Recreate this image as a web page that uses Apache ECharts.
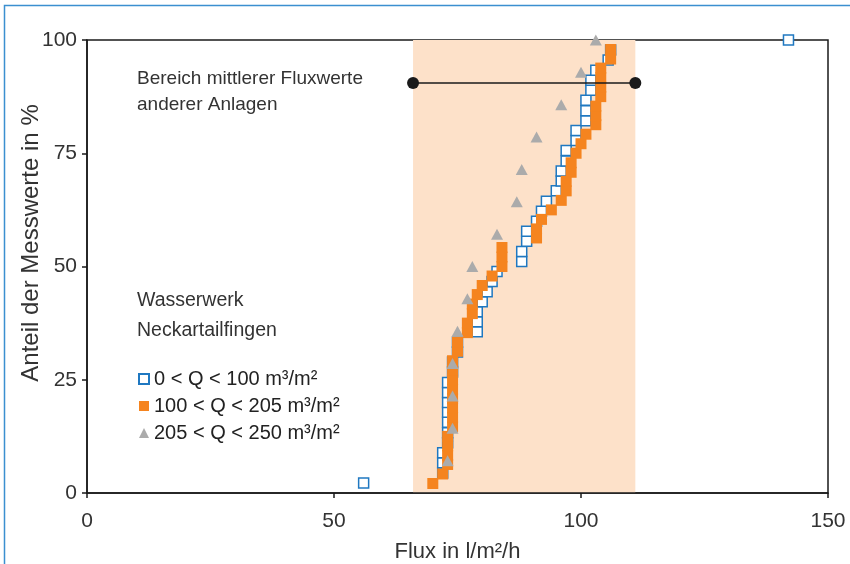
<!DOCTYPE html>
<html>
<head>
<meta charset="utf-8">
<script src="https://cdn.jsdelivr.net/npm/echarts@6/dist/echarts.min.js"></script>
<style>
  html, body { margin: 0; padding: 0; background: #fff; }
  #chart { width: 850px; height: 564px; }
</style>
</head>
<body>
<div id="chart"></div>
<script>
// Flux (l/m²/h) je Messwert, nach Gruppe
var lowFlux = [56, 72, 72, 72, 73, 73, 73, 73, 73, 73, 73, 74, 74, 75, 75,
  79, 79, 79, 80, 81, 82, 83, 88, 88, 89, 89, 91, 92, 93, 95,
  96, 96, 97, 97, 99, 99, 101, 101, 101, 102, 102, 103, 105.5, 106, 142];
var lowShare = [2.2, 4.4, 6.7, 8.9, 11.1, 13.3, 15.6, 17.8, 20.0, 22.2, 24.4, 26.7, 28.9, 31.1, 33.3,
  35.6, 37.8, 40.0, 42.2, 44.4, 46.7, 48.9, 51.1, 53.3, 55.6, 57.8, 60.0, 62.2, 64.4, 66.7,
  68.9, 71.1, 73.3, 75.6, 77.8, 80.0, 82.2, 84.4, 86.7, 88.9, 91.1, 93.3, 95.6, 97.8, 100];

var midFlux = [70, 72, 73, 73, 73, 73, 74, 74, 74, 74, 74, 74, 74, 74, 75, 75,
  77, 77, 78, 78, 79, 80, 82, 84, 84, 84, 91, 91, 92, 94, 96, 97,
  97, 98, 98, 99, 100, 101, 103, 103, 103, 104, 104, 104, 104, 106, 106];
var midShare = [2.1, 4.2, 6.3, 8.3, 10.4, 12.5, 14.6, 16.7, 18.8, 20.8, 22.9, 25.0, 27.1, 29.2, 31.3, 33.3,
  35.4, 37.5, 39.6, 41.7, 43.8, 45.8, 47.9, 50.0, 52.1, 54.2, 56.3, 58.3, 60.4, 62.5, 64.6, 66.7,
  68.8, 70.8, 72.9, 75.0, 77.1, 79.2, 81.3, 83.3, 85.4, 87.5, 89.6, 91.7, 93.8, 95.8, 97.9];

var highFlux = [73, 74, 74, 74, 75, 77, 78, 83, 87, 88, 91, 96, 100, 103];
var highShare = [7.1, 14.3, 21.4, 28.6, 35.7, 42.9, 50.0, 57.1, 64.3, 71.4, 78.6, 85.7, 92.9, 100];

// Bereich mittlerer Fluxwerte anderer Anlagen
var bandRange = [66, 111];
var rangeShare = 90.5;

var seriesNames = ["0 < Q < 100 m³/m²", "100 < Q < 205 m³/m²", "205 < Q < 250 m³/m²"];

var font = "Liberation Sans";

function pairs(xs, ys) {
  var out = [];
  for (var i = 0; i < xs.length; i++) {
    out.push([xs[i], ys[i]]);
  }
  return out;
}

var myChart = echarts.init(document.getElementById("chart"));

var axisLine = { show: true, onZero: false, lineStyle: { color: "#1a1a1a", width: 1.5 } };
var axisTick = { show: true, length: 5, lineStyle: { color: "#1a1a1a", width: 1.5 } };
var labelStyle = { fontFamily: font, fontSize: 21, color: "#333" };

var option = {
  animation: false,
  backgroundColor: "#fff",
  textStyle: { fontFamily: font },
  grid: {
    left: 87,
    right: 22,
    top: 40,
    bottom: 71,
    outerBoundsMode: "none",
    show: true,
    borderColor: "#1a1a1a",
    borderWidth: 1.5,
    z: 1
  },
  xAxis: {
    type: "value",
    min: 0,
    max: 150,
    interval: 50,
    z: 1,
    name: "Flux in l/m²/h",
    nameLocation: "middle",
    nameGap: 48,
    nameTextStyle: { fontFamily: font, fontSize: 22, color: "#333" },
    axisLine: axisLine,
    axisTick: axisTick,
    axisLabel: Object.assign({ margin: 18 }, labelStyle),
    splitLine: { show: false }
  },
  yAxis: {
    type: "value",
    min: 0,
    max: 100,
    interval: 25,
    z: 1,
    axisLine: axisLine,
    axisTick: axisTick,
    axisLabel: Object.assign({ margin: 10 }, labelStyle),
    splitLine: { show: false }
  },
  legend: {
    data: seriesNames,
    orient: "vertical",
    left: 133,
    top: 364,
    itemWidth: 10,
    itemHeight: 10,
    itemGap: 7,
    textStyle: { fontFamily: font, fontSize: 20, color: "#222" }
  },
  graphic: [
    {
      type: "text",
      x: 31,
      y: 243,
      rotation: Math.PI / 2,
      style: {
        text: "Anteil der Messwerte in %",
        font: "24px " + font,
        fill: "#333",
        textAlign: "center",
        textVerticalAlign: "middle"
      }
    },
    {
      type: "text",
      left: 137,
      top: 66,
      style: {
        text: "Bereich mittlerer Fluxwerte\nanderer Anlagen",
        font: "19px " + font,
        fill: "#333",
        lineHeight: 26
      }
    },
    {
      type: "text",
      left: 137,
      top: 286,
      style: {
        text: "Wasserwerk\nNeckartailfingen",
        font: "19.5px " + font,
        fill: "#333",
        lineHeight: 30
      }
    },
    {
      type: "rect",
      shape: { x: 4.5, y: 5.5, width: 900, height: 700 },
      style: { fill: null, stroke: "#3b8fd0", lineWidth: 1.5 },
      silent: true
    }
  ],
  series: [
    {
      type: "line",
      data: [],
      z: 0,
      silent: true,
      markArea: {
        silent: true,
        itemStyle: { color: "#fde1c9" },
        data: [[{ xAxis: bandRange[0] }, { xAxis: bandRange[1] }]]
      }
    },
    {
      name: seriesNames[0],
      type: "scatter",
      symbol: "rect",
      symbolSize: 10,
      z: 3,
      itemStyle: { color: "#fff", borderColor: "#1f78c1", borderWidth: 1.5, opacity: 1 },
      data: pairs(lowFlux, lowShare)
    },
    {
      name: seriesNames[1],
      type: "scatter",
      symbol: "rect",
      symbolSize: 11,
      z: 4,
      itemStyle: { color: "#f5841f", opacity: 1 },
      data: pairs(midFlux, midShare)
    },
    {
      name: seriesNames[2],
      type: "scatter",
      symbol: "triangle",
      symbolSize: [12, 11],
      z: 5,
      itemStyle: { color: "#ababab", opacity: 1 },
      data: pairs(highFlux, highShare)
    },
    {
      type: "line",
      z: 6,
      silent: true,
      symbol: "circle",
      symbolSize: 12,
      itemStyle: { color: "#1a1a1a" },
      lineStyle: { color: "#1a1a1a", width: 1.5 },
      data: [[bandRange[0], rangeShare], [bandRange[1], rangeShare]]
    }
  ]
};

myChart.setOption(option);
</script>
</body>
</html>
